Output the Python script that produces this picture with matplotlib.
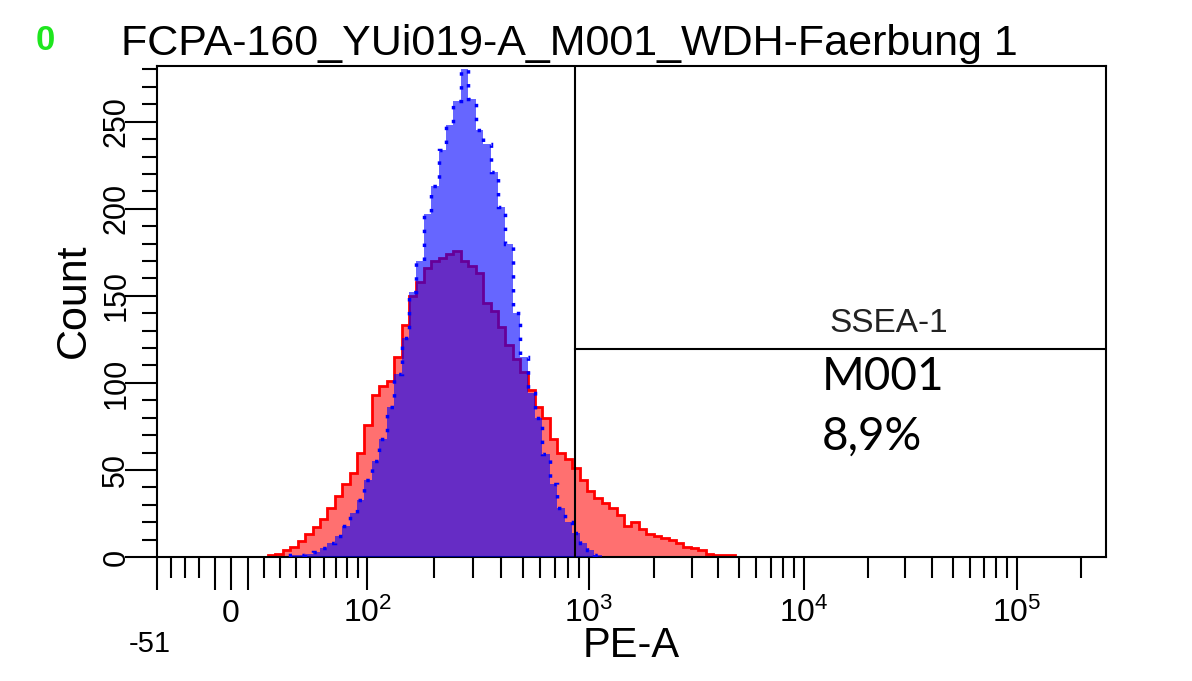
import numpy as np
import matplotlib
matplotlib.use("Agg")
import matplotlib.pyplot as plt

plt.rcParams["font.family"] = "Liberation Sans"
plt.rcParams["mathtext.fontset"] = "custom"
plt.rcParams["mathtext.rm"] = "Liberation Sans"

# histogram: 128 display channels, counts listed from the first non-empty channel
channels = 128
red_start = 15
red_counts = [1, 2, 4, 6, 9, 13, 17, 22, 28, 35, 42, 48, 60, 76, 93, 98, 101, 115, 133, 150,
              158, 166, 170, 172, 174, 176, 170, 167, 163, 146, 141, 132, 122, 114, 106, 96, 86, 80, 68, 60,
              56, 51, 44, 38, 34, 31, 28, 24, 18, 20, 16, 13, 12, 11, 10, 8, 6, 5, 4, 2,
              1, 1, 1]
blue_start = 18
blue_counts = [1, 1, 2, 3, 5, 8, 12, 18, 25, 33, 44, 55, 68, 86, 105, 126, 152, 170, 197, 213,
               234, 248, 262, 280, 263, 245, 237, 221, 201, 180, 140, 115, 94, 80, 59, 42, 28, 20, 14, 8,
               4, 1]

# marker M001
gate_lo = 865
gate_hi = 262144
gate_count = 119.5
gate_title = "SSEA-1"
gate_name = "M001"
gate_pct = "8,9%"

title = "FCPA-160_YUi019-A_M001_WDH-Faerbung 1"
x_major = [-51, -10, 0, 10, 100, 1000, 10000, 100000]
x_major_labels = ["", "", "0", "", r"$\mathregular{10^{2}}$", r"$\mathregular{10^{3}}$",
                  r"$\mathregular{10^{4}}$", r"$\mathregular{10^{5}}$"]
x_minor = ([-40, -30, -20] + list(range(20, 100, 10)) + list(range(200, 1000, 100))
           + list(range(2000, 10000, 1000)) + list(range(20000, 100000, 10000)) + [200000])
y_major = [0, 50, 100, 150, 200, 250]
y_minor = list(range(0, 290, 10))
y_max = 282

# biexponential display scale (display fraction u in [0, 1] -> PE-A value)
BA, BB, BC, BD, BF = 9.19, 10.258, 85.3, 8.03, 25.0


def biex_inverse(u):
    u = np.asarray(u, dtype=float)
    return BA * np.exp(BB * u) - BC * np.exp(-BD * u) + BF


_u_grid = np.linspace(-0.6, 1.4, 40001)
_x_grid = biex_inverse(_u_grid)


def biex_forward(x):
    return np.interp(np.asarray(x, dtype=float), _x_grid, _u_grid)


fig = plt.figure(figsize=(11.92, 6.81), dpi=100)
ax = fig.add_axes([0.1317, 0.1821, 0.7962, 0.7210])
ax.set_xscale("function", functions=(biex_forward, biex_inverse))

red_edges = biex_inverse((red_start + np.arange(len(red_counts) + 1)) / channels)
blue_edges = biex_inverse((blue_start + np.arange(len(blue_counts) + 1)) / channels)

ax.stairs(red_counts, red_edges, fill=True, color="#FF7070", zorder=1)
ax.stairs(red_counts, red_edges, color="#FF0000", lw=2, zorder=2)
ax.stairs(blue_counts, blue_edges, fill=True, color="#0000FF", alpha=0.6, lw=0, zorder=3)
ax.stairs(blue_counts, blue_edges, color="#0000FF", lw=2.5, ls=(0, (1, 3)), zorder=4)

# marker
ax.plot([gate_lo, gate_lo], [0, y_max], color="black", lw=1.5, zorder=5)
ax.plot([gate_lo, gate_hi], [gate_count, gate_count], color="black", lw=1.5, zorder=5)
ax.text(0.7713, 0.4582, gate_title, transform=ax.transAxes, ha="center", va="baseline",
        fontsize=24, color="#222222")
ax.text(0.7007, 0.3401, gate_name, transform=ax.transAxes, ha="left", va="baseline",
        fontsize=33, family="Lato")
ax.text(0.7007, 0.2179, gate_pct, transform=ax.transAxes, ha="left", va="baseline",
        fontsize=33, family="Lato")

ax.set_xlim(-51, 262144)
ax.set_ylim(0, y_max)

ax.set_xticks(x_major)
ax.set_xticklabels([])
ax.set_xticks(x_minor, minor=True)
xt = ax.get_xaxis_transform()
for v, lab in zip(x_major, x_major_labels):
    if lab:
        ax.text(v, -0.132, lab, transform=xt, ha="center", va="baseline", fontsize=23)
ax.text(-0.0074, -0.1935, "-51", transform=ax.transAxes, ha="center", va="baseline", fontsize=21)

ax.set_yticks(y_major)
ax.set_yticks(y_minor, minor=True)
ax.tick_params(axis="x", which="major", length=24, width=1.5)
ax.tick_params(axis="x", which="minor", length=15, width=1.5)
ax.tick_params(axis="y", which="major", length=23, width=1.5, labelsize=22,
               labelrotation=90, pad=-4.5)
ax.tick_params(axis="y", which="minor", length=11, width=1.5)
for lab in ax.get_yticklabels():
    lab.set_va("center")

for s in ax.spines.values():
    s.set_linewidth(1.5)

ax.set_xlabel("PE-A", fontsize=30)
ax.xaxis.set_label_coords(0.5, -0.1405)
ax.set_ylabel("Count", fontsize=31)
ax.yaxis.set_label_coords(-0.0664, 0.523)

fig.text(0.478, 0.919, title, ha="center", va="baseline", fontsize=31)
fig.text(0.0378, 0.940, "0", ha="center", va="center", fontsize=25, fontweight="bold",
         color="#1EE61E")

fig.savefig("out.png", dpi=100)
